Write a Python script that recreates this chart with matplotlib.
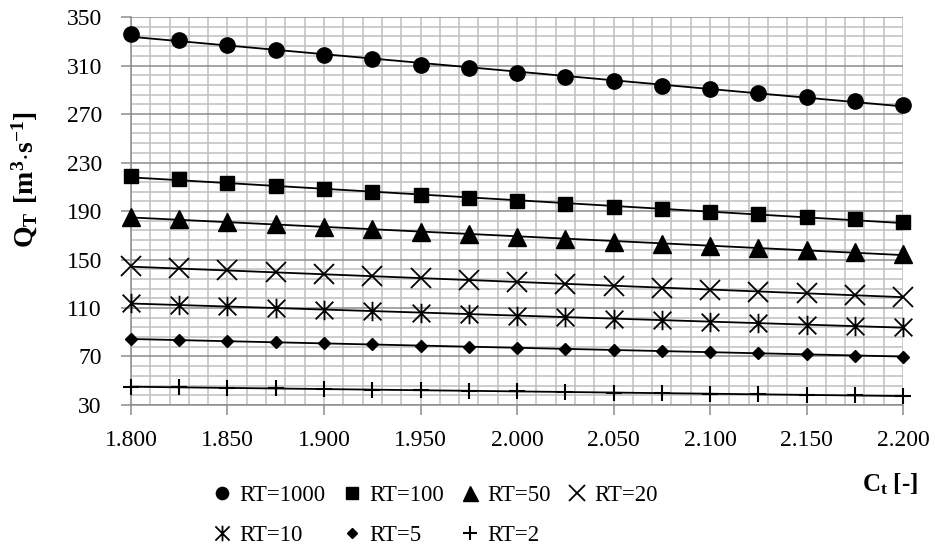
#!/usr/bin/env python3

import numpy as np
import matplotlib
matplotlib.use("Agg")
import matplotlib.pyplot as plt
from matplotlib.path import Path
from matplotlib.ticker import MultipleLocator, FormatStrFormatter

# Coefficient C_t [-]
ct = [1.800, 1.825, 1.850, 1.875, 1.900, 1.925, 1.950, 1.975, 2.000,
      2.025, 2.050, 2.075, 2.100, 2.125, 2.150, 2.175, 2.200]

# Discharge Q_T [m3/s] for each return period
q_rt1000 = [335.7, 331.0, 327.2, 322.8, 318.9, 315.1, 310.8, 307.7, 303.8,
            300.8, 297.4, 293.4, 290.4, 287.3, 284.0, 281.0, 277.6]
q_rt100 = [218.9, 216.1, 213.4, 210.6, 208.0, 205.6, 203.2, 200.4, 198.2,
           195.8, 193.6, 191.5, 189.5, 187.5, 184.8, 183.1, 180.9]
q_rt50 = [185.3, 183.2, 181.0, 178.9, 176.8, 174.8, 172.8, 170.7, 168.8,
          166.8, 164.5, 163.0, 161.3, 159.7, 157.8, 156.0, 154.3]
q_rt20 = [144.3, 142.7, 141.0, 139.4, 137.8, 136.2, 134.6, 133.0, 131.3,
          129.7, 128.2, 126.7, 125.1, 123.6, 122.1, 120.7, 119.3]
q_rt10 = [113.9, 112.6, 111.3, 110.0, 108.7, 107.4, 106.1, 104.9, 103.6,
          102.3, 101.1, 99.9, 98.7, 97.5, 96.3, 95.2, 94.1]
q_rt5 = [84.4, 83.5, 82.6, 81.7, 80.8, 79.9, 79.0, 78.1, 77.2,
         76.3, 75.4, 74.5, 73.6, 72.7, 71.7, 70.8, 69.9]
q_rt2 = [45.1, 44.6, 44.1, 43.6, 43.1, 42.6, 42.2, 41.7, 41.2,
         40.7, 40.2, 39.7, 39.3, 38.8, 38.3, 37.9, 37.4]

labels = ["RT=1000", "RT=100", "RT=50", "RT=20", "RT=10", "RT=5", "RT=2"]

# Excel style asterisk: an x with a vertical bar
asterisk = Path([(-1, -1), (1, 1), (-1, 1), (1, -1), (0, -1.1), (0, 1.1)],
                [Path.MOVETO, Path.LINETO] * 3)

series = [
    (q_rt1000, "o", 11, {}),
    (q_rt100, "s", 10.5, {}),
    (q_rt50, "^", 13.5, {}),
    (q_rt20, "x", 14, {"markeredgewidth": 1.3}),
    (q_rt10, asterisk, 14, {"markeredgewidth": 1.3, "markerfacecolor": "none"}),
    (q_rt5, "D", 6.5, {}),
    (q_rt2, "+", 12, {"markeredgewidth": 1.5}),
]

plt.rcParams["font.family"] = ["Liberation Serif", "DejaVu Serif"]
plt.rcParams["mathtext.fontset"] = "custom"
plt.rcParams["mathtext.rm"] = "Liberation Serif"
plt.rcParams["mathtext.bf"] = "Liberation Serif:bold"

fig = plt.figure(figsize=(9.35, 5.51), dpi=100)
ax = fig.add_axes([0.1401, 0.265, 0.8257, 0.7041])

handles = []
x_fit = np.array([ct[0], ct[-1]])
for (q, marker, ms, extra), label in zip(series, labels):
    # linear trend line through the points
    k, b = np.polyfit(ct, q, 1)
    ax.plot(x_fit, k * x_fit + b, color="black", lw=1.3, zorder=3,
            solid_capstyle="butt")
    h, = ax.plot(ct, q, ls="none", marker=marker, ms=ms, color="black",
                 label=label, zorder=4, clip_on=False, **extra)
    handles.append(h)

ax.set_xlim(1.8, 2.2)
ax.set_ylim(30, 350)
ax.xaxis.set_major_locator(MultipleLocator(0.05))
ax.xaxis.set_minor_locator(MultipleLocator(0.01))
ax.xaxis.set_major_formatter(FormatStrFormatter("%.3f"))
ax.yaxis.set_major_locator(MultipleLocator(40, offset=30))
ax.yaxis.set_minor_locator(MultipleLocator(8, offset=6))

ax.grid(which="minor", color="#bfbfbf", lw=1.1, zorder=0)
ax.grid(which="major", axis="x", color="#bfbfbf", lw=1.1, zorder=0)
ax.grid(which="major", axis="y", color="#8c8c8c", lw=1.1, zorder=1)
ax.set_axisbelow(True)

for side in ["top", "right"]:
    ax.spines[side].set_visible(False)
for side in ["left", "bottom"]:
    ax.spines[side].set_color("#8c8c8c")
    ax.spines[side].set_linewidth(1.1)

ax.tick_params(which="major", direction="out", length=7, width=1.1,
               color="#8c8c8c", labelsize=17)
ax.tick_params(axis="x", which="major", pad=11)
ax.tick_params(axis="y", which="major", pad=14)
ax.tick_params(which="minor", length=0)

fig.text(25 / 935, 1 - 180 / 551, r"$\mathbf{Q_T\ [m^3{\cdot}s^{-1}]}$",
         fontsize=20, rotation=90, ha="center", va="center")
fig.text(0.952, 0.122, r"$\mathbf{C_t}$ [-]", fontsize=18, fontweight="bold",
         ha="center", va="center")

# Legend filled row by row (matplotlib fills columns first)
order = [0, 4, 1, 5, 2, 6, 3]
fig.legend([handles[i] for i in order], [labels[i] for i in order],
           ncol=4, loc="upper left", bbox_to_anchor=(0.2264, 0.1207),
           frameon=False, fontsize=16.5, handlelength=0.9, handletextpad=0.3,
           columnspacing=0.7, labelspacing=0.85, borderpad=0,
           borderaxespad=0, markerscale=0.8)

fig.savefig("out.png", dpi=100)
